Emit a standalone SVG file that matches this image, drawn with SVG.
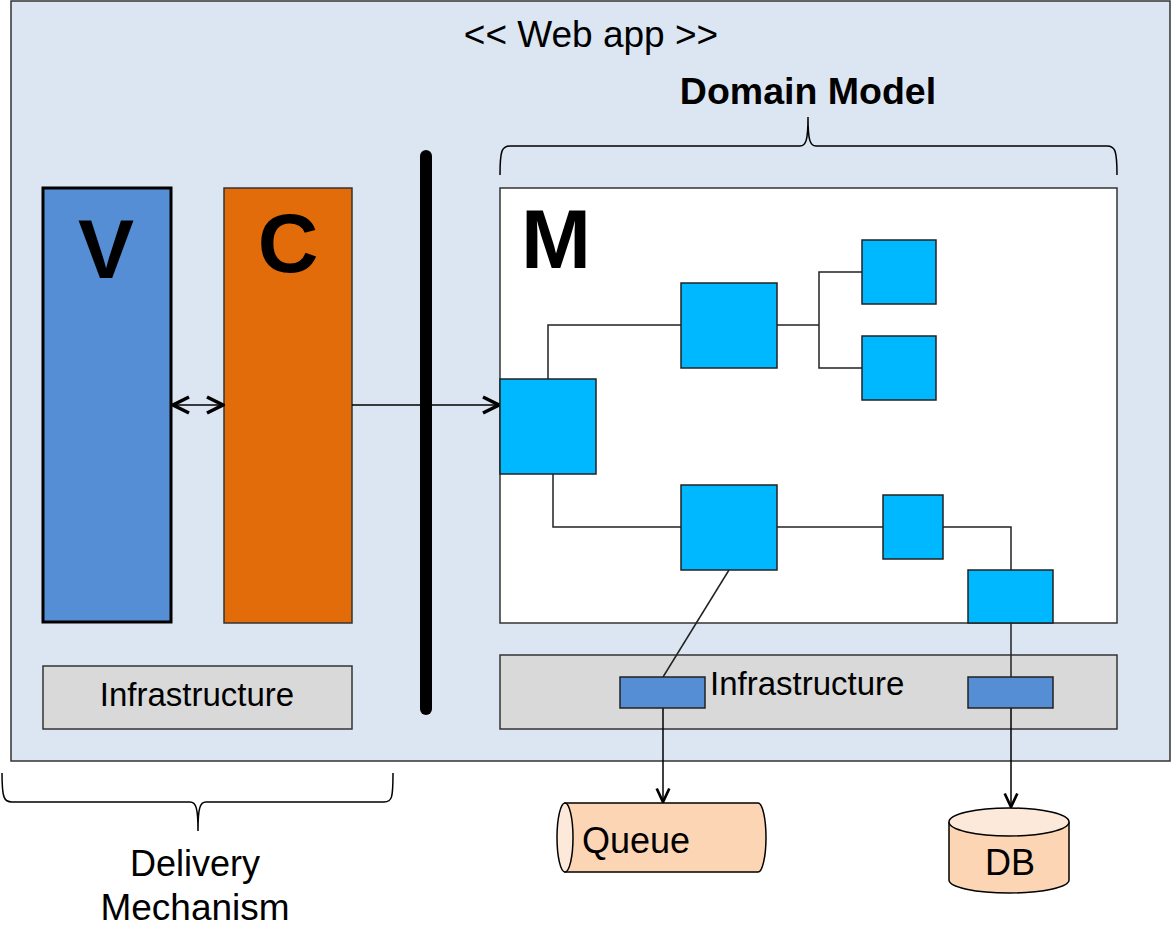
<svg xmlns="http://www.w3.org/2000/svg" width="1172" height="937" viewBox="0 0 1172 937">
<style>
text{font-family:"Liberation Sans",Arial,sans-serif;fill:#000}
.big{font-size:84px;font-weight:bold}
.lbl{font-size:36px}
.infra{fill:#d9d9d9;stroke:#333;stroke-width:1.5}
.blk{fill:#00b8ff;stroke:#222;stroke-width:1.5}
.ib{fill:#558ed5;stroke:#222;stroke-width:1.5}
.ln{fill:none;stroke:#222;stroke-width:1.5}
.brace{fill:none;stroke:#000;stroke-width:1.5}
</style>
<defs>
<marker id="arr" viewBox="0 0 20 20" refX="18" refY="10" markerWidth="20" markerHeight="20" markerUnits="userSpaceOnUse" orient="auto-start-reverse">
<path d="M2,2 L18,10 L2,18" fill="none" stroke="#000" stroke-width="3.5"/>
</marker>
<marker id="arr2" viewBox="0 0 20 20" refX="18" refY="10" markerWidth="18" markerHeight="18" markerUnits="userSpaceOnUse" orient="auto">
<path d="M3,3 L18,10 L3,17" fill="none" stroke="#000" stroke-width="3"/>
</marker>
</defs>
<rect width="1172" height="937" fill="#fff"/>
<g id="webapp">
<rect x="11" y="1" width="1159" height="760" fill="#dce6f2" stroke="#333" stroke-width="1.5"/>
<text x="591" y="47" text-anchor="middle" style="font-size:37px">&lt;&lt; Web app &gt;&gt;</text>
</g>
<g id="domain-brace">
<path class="brace" d="M500,175 C500,150 502,146 510,146 L800,146 C806,146 808,140 808,117 C808,140 810,146 816,146 L1107,146 C1115,146 1117,150 1117,175"/>
<text x="808" y="104" text-anchor="middle" style="font-size:37.5px;font-weight:bold">Domain Model</text>
</g>
<g id="view">
<rect x="43" y="188" width="128" height="434" fill="#558ed5" stroke="#000" stroke-width="3"/>
<text class="big" x="106" y="278" text-anchor="middle">V</text>
</g>
<g id="controller">
<rect x="224" y="188" width="128" height="435" fill="#e36c0a" stroke="#333" stroke-width="1.5"/>
<text class="big" x="288" y="272" text-anchor="middle">C</text>
</g>
<g id="boundary">
<line x1="426" y1="156" x2="426" y2="709" stroke="#000" stroke-width="12" stroke-linecap="round"/>
</g>
<g id="infra-left">
<rect class="infra" x="43" y="666" width="309" height="63"/>
<text x="197" y="706" text-anchor="middle" style="font-size:33px">Infrastructure</text>
</g>
<g id="model">
<rect x="500" y="188" width="617" height="435" fill="#fff" stroke="#333" stroke-width="1.5"/>
<text class="big" x="521" y="268">M</text>
</g>
<g id="infra-right">
<rect class="infra" x="500" y="655" width="617" height="74"/>
<text x="710" y="695" style="font-size:33px">Infrastructure</text>
</g>
<g id="connectors">
<line x1="173" y1="405" x2="223" y2="405" stroke="#000" stroke-width="1.5" marker-start="url(#arr)" marker-end="url(#arr)"/>
<line x1="352" y1="405" x2="499" y2="405" stroke="#000" stroke-width="1.5" marker-end="url(#arr)"/>
<path class="ln" d="M548,379 V325 H681"/>
<path class="ln" d="M777,325 H819"/>
<path class="ln" d="M862,272 H819 V368 H862"/>
<path class="ln" d="M553,474 V527 H681"/>
<path class="ln" d="M777,527 H883"/>
<path class="ln" d="M943,527 H1011 V570"/>
<path class="ln" d="M729,570 L663,677"/>
<path class="ln" d="M1011,623 V677"/>
<line x1="663" y1="708" x2="663" y2="802" stroke="#000" stroke-width="1.5" marker-end="url(#arr2)"/>
<line x1="1011" y1="708" x2="1011" y2="807" stroke="#000" stroke-width="1.5" marker-end="url(#arr2)"/>
</g>
<g id="entity-a"><rect class="blk" x="500" y="379" width="96" height="95"/></g>
<g id="entity-b"><rect class="blk" x="681" y="283" width="96" height="85"/></g>
<g id="entity-c1"><rect class="blk" x="862" y="240" width="74" height="64"/></g>
<g id="entity-c2"><rect class="blk" x="862" y="336" width="74" height="64"/></g>
<g id="entity-d"><rect class="blk" x="681" y="485" width="96" height="85"/></g>
<g id="entity-e"><rect class="blk" x="883" y="495" width="60" height="64"/></g>
<g id="entity-f"><rect class="blk" x="968" y="570" width="85" height="53"/></g>
<g id="adapter-queue"><rect class="ib" x="620" y="677" width="85" height="31"/></g>
<g id="adapter-db"><rect class="ib" x="968" y="677" width="85" height="31"/></g>
<g id="queue">
<path d="M565,803 L758,803 A8,34.5 0 0 1 758,872 L565,872 Z" fill="#fcd5b5" stroke="#000" stroke-width="1.5"/>
<ellipse cx="565" cy="837.5" rx="8" ry="34.5" fill="#fde9d9" stroke="#000" stroke-width="1.5"/>
<text class="lbl" x="582" y="853">Queue</text>
</g>
<g id="db">
<path d="M949,822 V880 A60,13 0 0 0 1069,880 V822" fill="#fcd5b5" stroke="#000" stroke-width="1.5"/>
<ellipse cx="1009" cy="822" rx="60" ry="14" fill="#fde9d9" stroke="#000" stroke-width="1.5"/>
<text class="lbl" x="1010" y="875" text-anchor="middle">DB</text>
</g>
<g id="delivery-brace">
<path class="brace" d="M2,773 C2,798 4,802 12,802 L190,802 C196,802 198,808 198,831 C198,808 200,802 206,802 L384,802 C392,802 393,798 393,773"/>
<text class="lbl" x="195" y="876" text-anchor="middle">Delivery</text>
<text x="195" y="920" text-anchor="middle" style="font-size:37px">Mechanism</text>
</g>
</svg>
